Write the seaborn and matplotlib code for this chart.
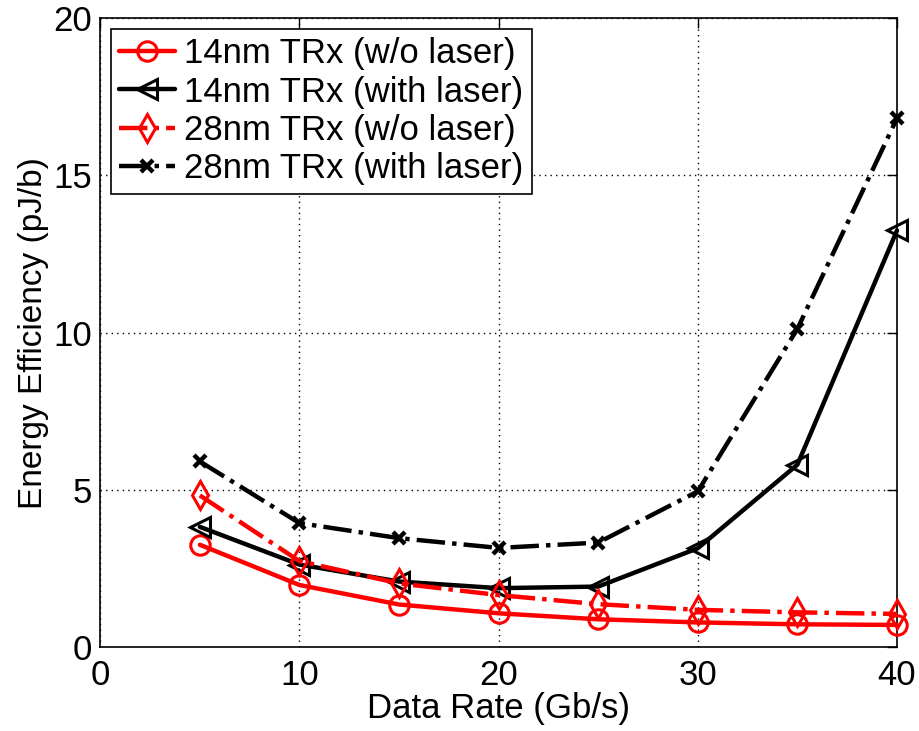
import matplotlib
matplotlib.use("Agg")
import matplotlib.pyplot as plt
import seaborn as sns
import pandas as pd

# Data rate (Gb/s)
data_rate = [5, 10, 15, 20, 25, 30, 35, 40]

# Energy efficiency (pJ/b) per transceiver configuration
trx14_no_laser = [3.25, 1.97, 1.35, 1.07, 0.88, 0.78, 0.72, 0.70]
trx14_laser = [3.82, 2.62, 2.08, 1.87, 1.92, 3.14, 5.80, 13.25]
trx28_no_laser = [4.82, 2.73, 2.02, 1.65, 1.36, 1.18, 1.10, 1.05]
trx28_laser = [5.90, 3.94, 3.46, 3.15, 3.32, 4.95, 10.12, 16.82]

series_names = [
    "14nm TRx (w/o laser)",
    "14nm TRx (with laser)",
    "28nm TRx (w/o laser)",
    "28nm TRx (with laser)",
]
series_values = [trx14_no_laser, trx14_laser, trx28_no_laser, trx28_laser]

x_ticks = [0, 10, 20, 30, 40]
y_ticks = [0, 5, 10, 15, 20]

sns.set_theme(style="white")
plt.rcParams["font.family"] = ["Liberation Sans", "DejaVu Sans"]
plt.rcParams["text.color"] = "black"
plt.rcParams["axes.labelcolor"] = "black"

styles = {
    "14nm TRx (w/o laser)": dict(color="#ff0000", linestyle="-", marker="o"),
    "14nm TRx (with laser)": dict(color="black", linestyle="-", marker="<"),
    "28nm TRx (w/o laser)": dict(color="#ff0000", linestyle="-.", marker="d"),
    "28nm TRx (with laser)": dict(color="black", linestyle="-.", marker="x"),
}

frames = []
for name, vals in zip(series_names, series_values):
    frames.append(pd.DataFrame({"rate": data_rate, "eff": vals, "series": name}))
df = pd.concat(frames, ignore_index=True)

fig = plt.figure(figsize=(9.2, 7.31), dpi=100)
ax = fig.add_axes([0.109, 0.115, 0.866, 0.86])

for name in series_names:
    st = styles[name]
    sub = df[df["series"] == name]
    mk = st["marker"]
    kw = dict(markersize=14, markeredgewidth=2.2, markerfacecolor="none",
              markeredgecolor=st["color"])
    if mk == "x":
        kw = dict(markersize=9, markeredgewidth=3.2, markeredgecolor=st["color"])
    sns.lineplot(data=sub, x="rate", y="eff", ax=ax, color=st["color"],
                 linestyle=st["linestyle"], marker=mk, linewidth=3.2,
                 label=name, clip_on=False, zorder=3, **kw)

ax.set_xlim(0, 40)
ax.set_ylim(0, 20)
ax.set_xticks(x_ticks)
ax.set_yticks(y_ticks)
ax.tick_params(direction="in", length=7, width=1, top=True, right=True,
               labelsize=25, colors="black")
ax.tick_params(axis="x", pad=9)
ax.tick_params(axis="y", pad=6)
ax.grid(True, linestyle=(0, (1, 3)), color="black", linewidth=1.0)
for sp in ax.spines.values():
    sp.set_color("black")
    sp.set_linewidth(1.2)
    sp.set_visible(True)

ax.set_xlabel("Data Rate (Gb/s)", fontsize=25, labelpad=0, color="black")
ax.set_ylabel("Energy Efficiency (pJ/b)", fontsize=24, labelpad=3, color="black")

leg = ax.legend(loc="upper left", fontsize=25, frameon=True, fancybox=False,
                edgecolor="black", handlelength=1.6, handletextpad=0.25,
                borderpad=0.25, labelspacing=0.15, borderaxespad=0.3,
                framealpha=1)
leg.get_frame().set_linewidth(1.2)

fig.savefig("out.png", dpi=100)
